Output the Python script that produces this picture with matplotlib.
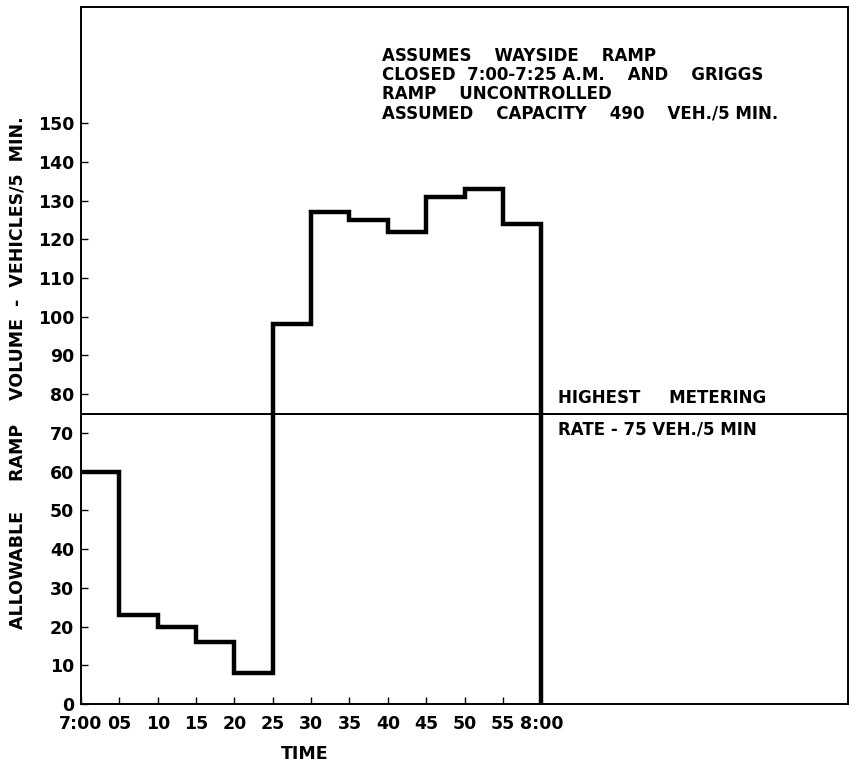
import matplotlib.pyplot as plt

# minutes after 7:00 and allowable ramp volume (veh / 5 min)
minutes = [0, 5, 10, 15, 20, 25, 30, 35, 40, 45, 50, 55, 60]
volume = [60, 23, 20, 16, 8, 98, 127, 125, 122, 131, 133, 124, 0]
metering_rate = 75

tick_pos = [0, 5, 10, 15, 20, 25, 30, 35, 40, 45, 50, 55, 60]
tick_labels = ['7:00', '05', '10', '15', '20', '25', '30', '35', '40', '45', '50', '55', '8:00']
y_ticks = list(range(0, 160, 10))

plt.rcParams['font.family'] = 'DejaVu Sans'
plt.rcParams['font.weight'] = 'bold'
plt.rcParams['axes.labelweight'] = 'bold'

fig = plt.figure(figsize=(8.49, 7.66), dpi=100)
ax = fig.add_axes([0.0954, 0.081, 0.9036, 0.91])

ax.step(minutes, volume, where='post', color='black', linewidth=3.2, solid_joinstyle='miter')
ax.axhline(metering_rate, color='black', linewidth=1.4)

ax.set_xlim(0, 100)
ax.set_ylim(0, 180)
ax.set_xticks(tick_pos)
ax.set_xticklabels(tick_labels, fontsize=12.5)
ax.set_yticks(y_ticks)
ax.set_yticklabels([str(v) for v in y_ticks], fontsize=12.5)
ax.tick_params(direction='in', length=5, width=1)
ax.tick_params(axis='x', pad=8)
ax.tick_params(axis='y', pad=5)

for sp in ax.spines.values():
    sp.set_linewidth(1.4)

ax.set_xlabel('TIME', fontsize=12.5)
ax.xaxis.set_label_coords(0.292, -0.059)
ax.set_ylabel('ALLOWABLE     RAMP    VOLUME  -  VEHICLES/5  MIN.', fontsize=12.5)
ax.yaxis.set_label_coords(-0.071, 0.475)

note = ('ASSUMES    WAYSIDE    RAMP\n'
        'CLOSED  7:00-7:25 A.M.    AND    GRIGGS\n'
        'RAMP    UNCONTROLLED\n'
        'ASSUMED    CAPACITY    490    VEH./5 MIN.')
ax.text(0.392, 0.943, note, transform=ax.transAxes, fontsize=12, va='top', ha='left',
        linespacing=1.1)

ax.text(62.2, metering_rate + 1.8, 'HIGHEST     METERING', fontsize=12, va='bottom', ha='left')
ax.text(62.2, metering_rate - 1.8, 'RATE - 75 VEH./5 MIN', fontsize=12, va='top', ha='left')

fig.savefig('out.png', dpi=100)
